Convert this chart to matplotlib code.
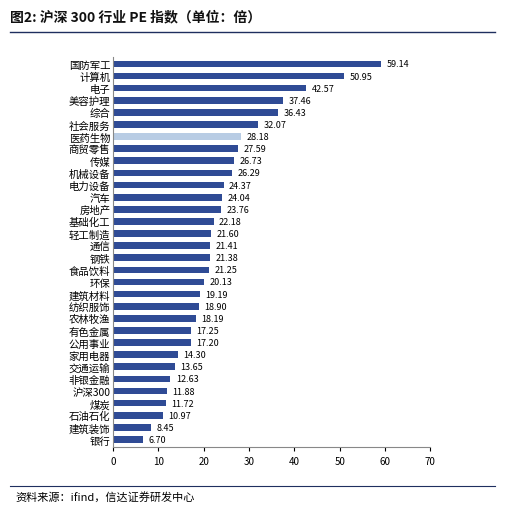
import numpy as np
import matplotlib.pyplot as plt

plt.rcParams['font.family'] = ['Noto Sans CJK SC', 'DejaVu Sans']

industries = ['国防军工', '计算机', '电子', '美容护理', '综合', '社会服务', '医药生物', '商贸零售',
              '传媒', '机械设备', '电力设备', '汽车', '房地产', '基础化工', '轻工制造', '通信',
              '钢铁', '食品饮料', '环保', '建筑材料', '纺织服饰', '农林牧渔', '有色金属', '公用事业',
              '家用电器', '交通运输', '非银金融', '沪深300', '煤炭', '石油石化', '建筑装饰', '银行']
pe = [59.14, 50.95, 42.57, 37.46, 36.43, 32.07, 28.18, 27.59,
      26.73, 26.29, 24.37, 24.04, 23.76, 22.18, 21.60, 21.41,
      21.38, 21.25, 20.13, 19.19, 18.90, 18.19, 17.25, 17.20,
      14.30, 13.65, 12.63, 11.88, 11.72, 10.97, 8.45, 6.70]
highlight = '医药生物'

fig = plt.figure(figsize=(5.05, 5.10), dpi=100)
ax = fig.add_axes([0.224, 0.122, 0.628, 0.765])

y = np.arange(len(industries))
colors = ['#B8CCE4' if n == highlight else '#2F4B95' for n in industries]
ax.barh(y, pe, height=0.55, color=colors)
for yi, v in zip(y, pe):
    ax.text(v + 1.2, yi, f'{v:.2f}', va='center', fontsize=6.5)

ax.set_yticks(y)
ax.set_yticklabels(industries, fontsize=7.5)
ax.invert_yaxis()
ax.set_ylim(len(industries) - 0.4, -0.6)
ax.set_xlim(0, 70)
ax.set_xticks(range(0, 71, 10))
ax.tick_params(axis='x', labelsize=7, length=3)
ax.tick_params(axis='y', length=0, pad=2)
for s in ['top', 'right']:
    ax.spines[s].set_visible(False)
ax.spines['left'].set_color('#888888')
ax.spines['bottom'].set_color('#888888')

fig.text(0.02, 0.965, '图2: 沪深 300 行业 PE 指数（单位：倍）', fontsize=10, fontweight='bold',
         color='#111111', va='center')
fig.add_artist(plt.Line2D([0.02, 0.98], [0.935, 0.935], color='#1F2F5F', lw=1))
fig.add_artist(plt.Line2D([0.02, 0.98], [0.045, 0.045], color='#1F2F5F', lw=0.8))
fig.text(0.03, 0.025, '资料来源：ifind，信达证券研发中心', fontsize=8, style='italic', va='center')

fig.savefig('out.png', dpi=100)
